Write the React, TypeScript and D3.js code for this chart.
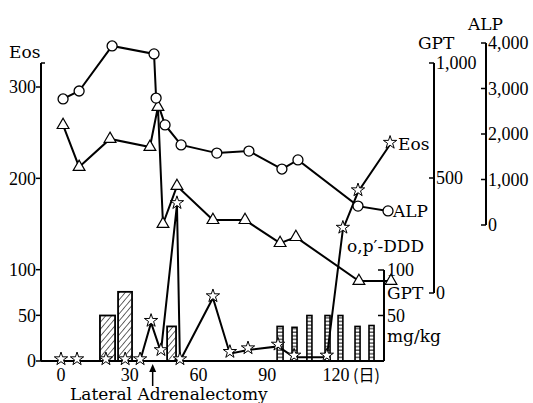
import React from "react";
import * as d3 from "d3";

// days after start / values
const eosDay = [0, 7, 19.6, 28, 34.5, 39.3, 43.6, 50.6, 51.9, 66.3, 73.7, 81.6, 94.7, 101.7, 116, 123, 129.6, 143.6];
const eosVal = [0, 0, 0, 0, 0, 42, 10, 171, 0, 69, 8, 12, 16, 4, 4, 144, 185, 237];
const alpDay = [0.9, 7.9, 22.3, 40.6, 41.5, 45.4, 52.4, 68, 82, 96.4, 103.4, 129.6, 142.7];
const alpVal = [2770, 2945, 3935, 3760, 2790, 2200, 1760, 1580, 1625, 1230, 1430, 415, 310];
const gptDay = [0.9, 7.9, 21.4, 38.8, 42.3, 44.5, 50.6, 66.3, 80.3, 95.6, 102.5, 130, 144];
const gptVal = [730, 548, 670, 635, 809, 300, 465, 317, 317, 217, 243, 52, 52];
// o,p'-DDD dosing periods (mg/kg)
const dddFrom = [17, 24.9, 46.3, 94.3, 100.8, 107.3, 115.2, 120.9, 128.3, 134.4];
const dddTo = [23.6, 31, 50.2, 96.9, 103, 109.5, 117.4, 123, 130.5, 136.6];
const dddDose = [50, 76, 38, 38, 37, 50, 50, 50, 38, 39];
const dddPhase = ["pre", "pre", "pre", "post", "post", "post", "post", "post", "post", "post"];
const surgeryDay = 40;

const dayTicks = [0, 30, 60, 90, 120];
const eosTicks = [0, 50, 100, 200, 300];
const dddTicks = [50, 100];
const gptTicks = [0, 500, 1000];
const alpTicks = [0, 1000, 2000, 3000, 4000];

const W = 533, H = 403;
const numFont = "'Liberation Serif', 'Times New Roman', serif";
const txtFont = "'DejaVu Serif', serif";

const x = d3.scaleLinear().domain([0, 120]).range([61, 336]);
const yEos = d3.scaleLinear().domain([0, 300]).range([361, 87]);
const yDdd = d3.scaleLinear().domain([0, 100]).range([361, 270]);
const yGpt = d3.scaleLinear().domain([0, 1000]).range([293, 63]);
const yAlp = d3.scaleLinear().domain([0, 4000]).range([225, 43]);
const fmt = d3.format(",");

const eosX = 41, dddX = 384, gptX = 434, alpX = 486;

const star = d3.symbol(d3.symbolStar, 55)();
const tri = d3.symbol(d3.symbolTriangle, 60)();

function lineOf(days: number[], vals: number[], y: d3.ScaleLinear<number, number>) {
  return d3.line<number>().x((_, i) => x(days[i])).y((v) => y(v))(vals) as string;
}

export default function App() {
  const sw = 2;
  return (
    <svg width={W} height={H} style={{ position: "absolute", left: 0, top: 0, background: "#fff" }}>
      <defs>
        <pattern id="hatch" patternUnits="userSpaceOnUse" width="4.5" height="4.5" patternTransform="rotate(40)">
          <line x1="0" y1="0" x2="0" y2="4.5" stroke="#000" strokeWidth="1.2" />
        </pattern>
        <pattern id="ladder" patternUnits="userSpaceOnUse" width="6" height="3.6">
          <line x1="0" y1="1" x2="6" y2="1" stroke="#000" strokeWidth="1" />
        </pattern>
      </defs>

      {/* bars */}
      {dddDose.map((d, i) => (
        <rect key={"b" + i}
          x={x(dddFrom[i])} y={yDdd(d)}
          width={x(dddTo[i]) - x(dddFrom[i])} height={yDdd(0) - yDdd(d)}
          fill={dddPhase[i] === "pre" ? "url(#hatch)" : "url(#ladder)"}
          stroke="#000" strokeWidth={dddPhase[i] === "pre" ? 1.8 : 1.6} />
      ))}

      {/* x baseline */}
      <line x1={eosX} x2={dddX} y1={yEos(0)} y2={yEos(0)} stroke="#000" strokeWidth={2} />

      {/* Eos axis */}
      <line x1={eosX} x2={eosX} y1={63} y2={yEos(0)} stroke="#000" strokeWidth={2} />
      <line x1={eosX} x2={eosX + 4} y1={63} y2={63} stroke="#000" strokeWidth={1.5} />
      {eosTicks.map((t) => (
        <g key={"e" + t}>
          <line x1={eosX - 5} x2={eosX} y1={yEos(t)} y2={yEos(t)} stroke="#000" strokeWidth={1.5} />
          <text x={eosX - 5} y={yEos(t)} dy="0.35em" textAnchor="end" fontFamily={numFont} fontSize={18}>{t}</text>
        </g>
      ))}
      <text x={9} y={58} fontFamily={txtFont} fontSize={17}>Eos</text>

      {/* x labels */}
      {dayTicks.map((t) => (
        <text key={"x" + t} x={x(t)} y={381} textAnchor="middle" fontFamily={numFont} fontSize={18}>{t}</text>
      ))}
      <text x={x(120) + 17} y={381} fontFamily="'Noto Sans CJK JP', serif" fontSize={16}>(日)</text>

      {/* surgery arrow */}
      <line x1={x(surgeryDay)} x2={x(surgeryDay)} y1={386} y2={368} stroke="#000" strokeWidth={1.5} />
      <path d={`M${x(surgeryDay)},${364} l-3.5,8 l7,0 z`} fill="#000" />
      <text x={70} y={400} fontFamily={txtFont} fontSize={17}>Lateral  Adrenalectomy</text>

      {/* DDD axis */}
      <line x1={dddX} x2={dddX} y1={yDdd(100)} y2={yDdd(0)} stroke="#000" strokeWidth={2} />
      {dddTicks.map((t) => (
        <g key={"d" + t}>
          <line x1={dddX - 6} x2={dddX} y1={yDdd(t)} y2={yDdd(t)} stroke="#000" strokeWidth={1.5} />
          <text x={dddX + 3} y={yDdd(t)} dy="0.35em" fontFamily={numFont} fontSize={18}>{t}</text>
        </g>
      ))}
      <text x={dddX + 3} y={yDdd(27)} dy="0.35em" fontFamily={txtFont} fontSize={17}>mg/kg</text>
      <text x={dddX - 37} y={252} fontFamily={txtFont} fontSize={17}>o,p′-DDD</text>

      {/* GPT axis */}
      <line x1={gptX} x2={gptX} y1={yGpt(1000)} y2={yGpt(0)} stroke="#000" strokeWidth={2} />
      {gptTicks.map((t) => (
        <g key={"g" + t}>
          <line x1={gptX - 5} x2={gptX} y1={yGpt(t)} y2={yGpt(t)} stroke="#000" strokeWidth={1.5} />
          <text x={gptX + 2} y={yGpt(t)} dy="0.35em" fontFamily={numFont} fontSize={18}>{fmt(t)}</text>
        </g>
      ))}
      <text x={418} y={49} fontFamily={txtFont} fontSize={17}>GPT</text>
      <text x={gptX - 47} y={yGpt(0)} dy="0.35em" fontFamily={txtFont} fontSize={17}>GPT</text>

      {/* ALP axis */}
      <line x1={alpX} x2={alpX} y1={yAlp(4000)} y2={yAlp(0)} stroke="#000" strokeWidth={2} />
      {alpTicks.map((t) => (
        <g key={"a" + t}>
          <line x1={alpX - 5} x2={alpX} y1={yAlp(t)} y2={yAlp(t)} stroke="#000" strokeWidth={1.5} />
          <text x={alpX + 2} y={yAlp(t)} dy="0.35em" fontFamily={numFont} fontSize={18}>{fmt(t)}</text>
        </g>
      ))}
      <text x={468} y={30} fontFamily={txtFont} fontSize={17}>ALP</text>

      {/* lines */}
      <path d={lineOf(gptDay, gptVal, yGpt)} fill="none" stroke="#000" strokeWidth={sw} />
      <path d={lineOf(alpDay, alpVal, yAlp)} fill="none" stroke="#000" strokeWidth={sw} />
      <path d={lineOf(eosDay, eosVal, yEos)} fill="none" stroke="#000" strokeWidth={sw} />

      {/* markers */}
      {gptVal.map((v, i) => (
        <path key={"tg" + i} d={tri} transform={`translate(${x(gptDay[i])},${yGpt(v)})`} fill="#fff" stroke="#000" strokeWidth={1.2} />
      ))}
      {alpVal.map((v, i) => (
        <circle key={"ca" + i} cx={x(alpDay[i])} cy={yAlp(v)} r={5} fill="#fff" stroke="#000" strokeWidth={1.3} />
      ))}
      {eosVal.map((v, i) => (
        <path key={"se" + i} d={star} transform={`translate(${x(eosDay[i])},${yEos(v) - 2})`} fill="#fff" stroke="#000" strokeWidth={1} />
      ))}

      {/* series labels */}
      <text x={x(eosDay[eosDay.length - 1]) + 8} y={yEos(eosVal[eosVal.length - 1])} dy="0.35em" fontFamily={txtFont} fontSize={17}>Eos</text>
      <text x={x(alpDay[alpDay.length - 1]) + 5} y={yAlp(alpVal[alpVal.length - 1])} dy="0.35em" fontFamily={txtFont} fontSize={17}>ALP</text>
    </svg>
  );
}
